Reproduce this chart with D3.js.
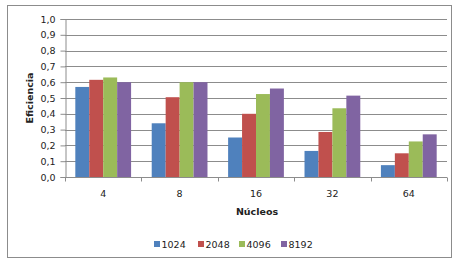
<!DOCTYPE html>
<html>
<head>
<meta charset="utf-8">
<script src="https://cdn.jsdelivr.net/npm/d3@7"></script>
<style>
  body { margin: 0; background: #fff; }
  svg { display: block; font-family: "DejaVu Sans", Verdana, sans-serif; }
</style>
</head>
<body>
<div class="chart"></div>
<script>
const categories = ["4", "8", "16", "32", "64"];
const seriesNames = ["1024", "2048", "4096", "8192"];
const s1024 = [0.57, 0.34, 0.25, 0.165, 0.075];
const s2048 = [0.615, 0.505, 0.40, 0.285, 0.15];
const s4096 = [0.63, 0.60, 0.525, 0.435, 0.225];
const s8192 = [0.60, 0.60, 0.56, 0.515, 0.27];
const yTicks = [0, 0.1, 0.2, 0.3, 0.4, 0.5, 0.6, 0.7, 0.8, 0.9, 1.0];
const colors = ["#4F81BD", "#C0504D", "#9BBB59", "#8064A2"];

const width = 453, height = 260;
const m = { top: 19, right: 6, bottom: 83, left: 65 };

const svg = d3.select(".chart")
    .append("svg")
    .attr("width", width)
    .attr("height", height);

// outer frame
svg.append("rect")
    .attr("x", 7.5).attr("y", 5.5)
    .attr("width", 444).attr("height", 252)
    .attr("fill", "none")
    .attr("stroke", "#8c8c8c")
    .attr("stroke-width", 1);

const x0 = d3.scaleBand()
    .domain(categories)
    .range([m.left, width - m.right])
    .paddingInner(0.27)
    .paddingOuter(0.135);

const x1 = d3.scaleBand()
    .domain(seriesNames)
    .range([0, x0.bandwidth()]);

const y = d3.scaleLinear()
    .domain([0, 1])
    .range([height - m.bottom, m.top]);

// gridlines
svg.append("g")
    .selectAll("line")
    .data(yTicks.slice(1))
    .join("line")
    .attr("x1", m.left)
    .attr("x2", width - m.right)
    .attr("y1", d => Math.round(y(d)) + 0.5)
    .attr("y2", d => Math.round(y(d)) + 0.5)
    .attr("stroke", "#8c8c8c");

// bars
const series = [s1024, s2048, s4096, s8192];
const barData = [];
for (let s = 0; s < series.length; s++) {
    for (let i = 0; i < categories.length; i++) {
        barData.push({ cat: categories[i], name: seriesNames[s], v: series[s][i], c: colors[s] });
    }
}
svg.append("g")
    .selectAll("rect")
    .data(barData)
    .join("rect")
    .attr("x", d => x0(d.cat) + x1(d.name))
    .attr("y", d => y(d.v))
    .attr("width", x1.bandwidth())
    .attr("height", d => y(0) - y(d.v))
    .attr("fill", d => d.c);

// y axis
const yAxis = svg.append("g")
    .attr("transform", `translate(${m.left + 0.5},0)`)
    .call(d3.axisLeft(y).tickValues(yTicks).tickSize(5).tickPadding(5)
        .tickFormat(d => d3.format(".1f")(d).replace(".", ",")));
yAxis.select(".domain").attr("stroke", "#8c8c8c");
yAxis.selectAll(".tick line").attr("stroke", "#8c8c8c");
yAxis.selectAll("text").attr("font-size", 9.5).attr("fill", "#222")
    .attr("font-family", "DejaVu Sans");

// x axis
const xAxisY = Math.round(y(0)) + 0.5;
const xg = svg.append("g");
xg.append("line")
    .attr("x1", m.left).attr("x2", width - m.right)
    .attr("y1", xAxisY).attr("y2", xAxisY)
    .attr("stroke", "#8c8c8c");
const bounds = d3.range(categories.length + 1).map(i => m.left + i * (width - m.left - m.right) / categories.length);
xg.selectAll(".tk")
    .data(bounds)
    .join("line")
    .attr("class", "tk")
    .attr("x1", d => Math.round(d) + 0.5).attr("x2", d => Math.round(d) + 0.5)
    .attr("y1", xAxisY).attr("y2", xAxisY + 4)
    .attr("stroke", "#8c8c8c");
xg.selectAll("text")
    .data(categories)
    .join("text")
    .attr("x", d => x0(d) + x0.bandwidth() / 2)
    .attr("y", 197)
    .attr("text-anchor", "middle")
    .attr("font-size", 9.5)
    .attr("fill", "#222")
    .text(d => d);

// axis titles
svg.append("text")
    .attr("x", 257)
    .attr("y", 215)
    .attr("text-anchor", "middle")
    .attr("font-size", 9.5)
    .attr("font-weight", "bold")
    .attr("fill", "#222")
    .text("Núcleos");

svg.append("text")
    .attr("transform", `translate(33,${(y(0) + y(1)) / 2}) rotate(-90)`)
    .attr("text-anchor", "middle")
    .attr("font-size", 9.5)
    .attr("font-weight", "bold")
    .attr("fill", "#222")
    .text("Eficiencia");

// legend
const legendX = [154, 198, 239, 281];
const lg = svg.append("g")
    .selectAll("g")
    .data(seriesNames)
    .join("g")
    .attr("transform", (d, i) => `translate(${legendX[i]},244)`);
lg.append("rect")
    .attr("x", 0).attr("y", -3)
    .attr("width", 6).attr("height", 6)
    .attr("fill", (d, i) => colors[i]);
lg.append("text")
    .attr("x", 7.5)
    .attr("y", 3.5)
    .attr("font-size", 9.5)
    .attr("fill", "#222")
    .text(d => d);
</script>
</body>
</html>
